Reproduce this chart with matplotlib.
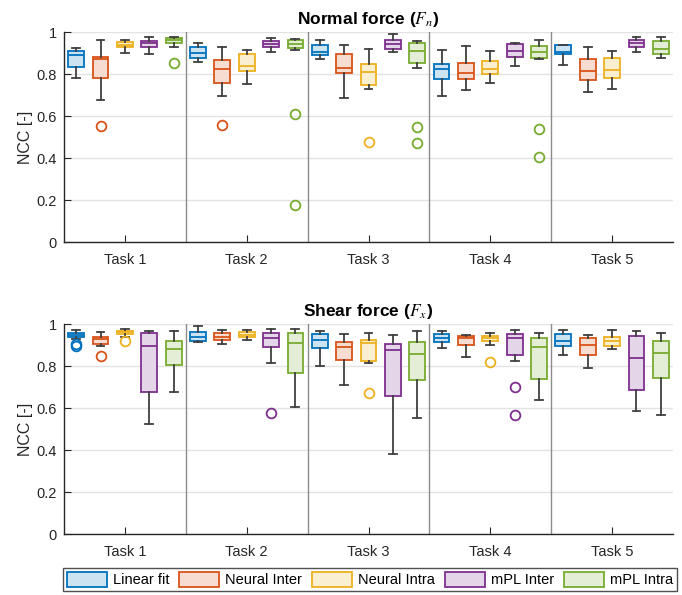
import matplotlib
matplotlib.use("Agg")
import matplotlib.pyplot as plt
from matplotlib.patches import Patch
import numpy as np

plt.rcParams['font.family'] = ['Liberation Sans', 'DejaVu Sans']
plt.rcParams['mathtext.fontset'] = 'stix'

tasks = ["Task 1", "Task 2", "Task 3", "Task 4", "Task 5"]
methods = ["Linear fit", "Neural Inter", "Neural Intra", "mPL Inter", "mPL Intra"]
edge_colors = ["#0072BD", "#D95319", "#EDB120", "#7E2F8E", "#77AC30"]

# Each entry: (whislo, q1, med, q3, whishi, outliers) per task, per method
normal_stats = {
    "Linear fit": [
        (0.783, 0.837, 0.892, 0.913, 0.924, []),
        (0.860, 0.879, 0.903, 0.930, 0.948, []),
        (0.875, 0.894, 0.906, 0.938, 0.965, []),
        (0.698, 0.778, 0.824, 0.849, 0.916, []),
        (0.844, 0.897, 0.906, 0.938, 0.941, []),
    ],
    "Neural Inter": [
        (0.679, 0.784, 0.871, 0.881, 0.965, [0.552]),
        (0.697, 0.759, 0.825, 0.868, 0.932, [0.557]),
        (0.689, 0.805, 0.829, 0.895, 0.941, []),
        (0.725, 0.776, 0.808, 0.856, 0.935, []),
        (0.716, 0.773, 0.814, 0.871, 0.929, []),
    ],
    "Neural Intra": [
        (0.903, 0.930, 0.941, 0.956, 0.965, []),
        (0.752, 0.817, 0.838, 0.898, 0.914, []),
        (0.730, 0.749, 0.813, 0.848, 0.921, [0.479]),
        (0.760, 0.800, 0.827, 0.863, 0.913, []),
        (0.732, 0.781, 0.819, 0.879, 0.913, []),
    ],
    "mPL Inter": [
        (0.897, 0.932, 0.948, 0.960, 0.976, []),
        (0.908, 0.930, 0.944, 0.957, 0.975, []),
        (0.906, 0.921, 0.946, 0.963, 0.992, []),
        (0.841, 0.884, 0.910, 0.943, 0.949, []),
        (0.906, 0.930, 0.949, 0.963, 0.978, []),
    ],
    "mPL Intra": [
        (0.930, 0.951, 0.962, 0.975, 0.979, [0.852]),
        (0.914, 0.924, 0.944, 0.962, 0.968, [0.610, 0.178]),
        (0.832, 0.854, 0.913, 0.948, 0.960, [0.548, 0.473]),
        (0.873, 0.876, 0.906, 0.933, 0.963, [0.540, 0.406]),
        (0.879, 0.897, 0.919, 0.960, 0.978, []),
    ],
}

shear_stats = {
    "Linear fit": [
        (0.932, 0.938, 0.949, 0.957, 0.971, [0.907, 0.897]),
        (0.917, 0.921, 0.941, 0.962, 0.994, []),
        (0.800, 0.886, 0.925, 0.956, 0.967, []),
        (0.889, 0.914, 0.937, 0.952, 0.970, []),
        (0.852, 0.898, 0.919, 0.952, 0.973, []),
    ],
    "Neural Inter": [
        (0.895, 0.908, 0.929, 0.941, 0.963, [0.849]),
        (0.905, 0.924, 0.941, 0.960, 0.973, []),
        (0.711, 0.829, 0.892, 0.917, 0.956, []),
        (0.844, 0.900, 0.935, 0.944, 0.951, []),
        (0.790, 0.852, 0.903, 0.935, 0.951, []),
    ],
    "Neural Intra": [
        (0.941, 0.952, 0.963, 0.970, 0.978, [0.921]),
        (0.924, 0.938, 0.951, 0.965, 0.973, []),
        (0.814, 0.827, 0.910, 0.927, 0.959, [0.675]),
        (0.903, 0.922, 0.935, 0.944, 0.959, [0.822]),
        (0.884, 0.897, 0.919, 0.941, 0.973, []),
    ],
    "mPL Inter": [
        (0.527, 0.676, 0.897, 0.959, 0.970, []),
        (0.817, 0.894, 0.937, 0.960, 0.978, [0.576]),
        (0.381, 0.657, 0.878, 0.908, 0.949, []),
        (0.827, 0.856, 0.937, 0.952, 0.971, [0.700, 0.567]),
        (0.589, 0.689, 0.840, 0.946, 0.968, []),
    ],
    "mPL Intra": [
        (0.679, 0.808, 0.884, 0.919, 0.970, []),
        (0.608, 0.770, 0.911, 0.957, 0.978, []),
        (0.552, 0.735, 0.859, 0.914, 0.967, []),
        (0.638, 0.738, 0.890, 0.933, 0.959, []),
        (0.568, 0.746, 0.865, 0.922, 0.957, []),
    ],
}

W, H = 682, 595
fig = plt.figure(figsize=(W / 100, H / 100), dpi=100)
ax_left = 64 / W
ax_w = 609 / W
ax_top = fig.add_axes([ax_left, 1 - 242.3 / H, ax_w, 210 / H])
ax_bot = fig.add_axes([ax_left, 1 - 534.3 / H, ax_w, 210 / H])

offsets = [-0.4, -0.2, 0.0, 0.2, 0.4]
txt_col = "#262626"


def light(c, a=0.2):
    rgb = np.array(matplotlib.colors.to_rgb(c))
    return tuple(1 - a * (1 - rgb))


def draw(ax, stats, title):
    for mi, m in enumerate(methods):
        bstats = []
        for ti, s in enumerate(stats[m]):
            lo, q1, med, q3, hi, fl = s
            bstats.append(dict(whislo=lo, q1=q1, med=med, q3=q3, whishi=hi,
                               fliers=fl))
        pos = [ti + 1 + offsets[mi] for ti in range(len(tasks))]
        c = edge_colors[mi]
        ax.bxp(bstats, positions=pos, widths=0.13, patch_artist=True,
               showfliers=True, capwidths=0.065,
               boxprops=dict(facecolor=light(c), edgecolor=c, linewidth=1.3),
               medianprops=dict(color=c, linewidth=1.3),
               whiskerprops=dict(color="#404040", linewidth=1.3),
               capprops=dict(color="#404040", linewidth=1.3),
               flierprops=dict(marker="o", markerfacecolor="none",
                               markeredgecolor=c, markersize=7,
                               markeredgewidth=1.3),
               zorder=3)
    for xs in [1.5, 2.5, 3.5, 4.5]:
        ax.axvline(xs, color="#8c8c8c", linewidth=1.0, zorder=1)
    ax.set_xlim(0.5, 5.5)
    ax.set_ylim(0, 1)
    ax.set_yticks([0, 0.2, 0.4, 0.6, 0.8, 1.0])
    ax.set_yticklabels(["0", "0.2", "0.4", "0.6", "0.8", "1"])
    ax.set_xticks(range(1, len(tasks) + 1))
    ax.set_xticklabels(tasks)
    ax.yaxis.grid(True, color="#e3e3e3", linewidth=1.0, zorder=0)
    ax.set_axisbelow(True)
    for sp in ["top", "right"]:
        ax.spines[sp].set_visible(False)
    for sp in ["left", "bottom"]:
        ax.spines[sp].set_color(txt_col)
        ax.spines[sp].set_linewidth(1.0)
    ax.tick_params(direction="in", length=5, color=txt_col, labelcolor=txt_col,
                   labelsize=10.5)
    ax.tick_params(axis="x", pad=8)
    ax.tick_params(axis="y", pad=5)
    ax.set_ylabel("NCC [-]", fontsize=11.5, color=txt_col, labelpad=3)
    ax.set_title(title, fontsize=12.5, fontweight="bold", pad=6)


draw(ax_top, normal_stats, r"Normal force ($F_n$)")
draw(ax_bot, shear_stats, r"Shear force ($F_x$)")

handles = [Patch(facecolor=light(c), edgecolor=c, linewidth=1.3)
           for c in edge_colors]
leg_x0, leg_x1 = 63 / W, 677 / W
leg_y0, leg_y1 = 1 - 592 / H, 1 - 567 / H
fig.legend(handles, methods, loc="center", ncol=5,
           bbox_to_anchor=(leg_x0, leg_y0, leg_x1 - leg_x0, leg_y1 - leg_y0),
           bbox_transform=fig.transFigure, mode="expand",
           frameon=True, fancybox=False, edgecolor="#262626",
           fontsize=10.5, handlelength=2.75, handleheight=1.2,
           columnspacing=1.0, handletextpad=0.4, borderpad=0.25,
           borderaxespad=0.0)

fig.savefig("out.png", dpi=100)
